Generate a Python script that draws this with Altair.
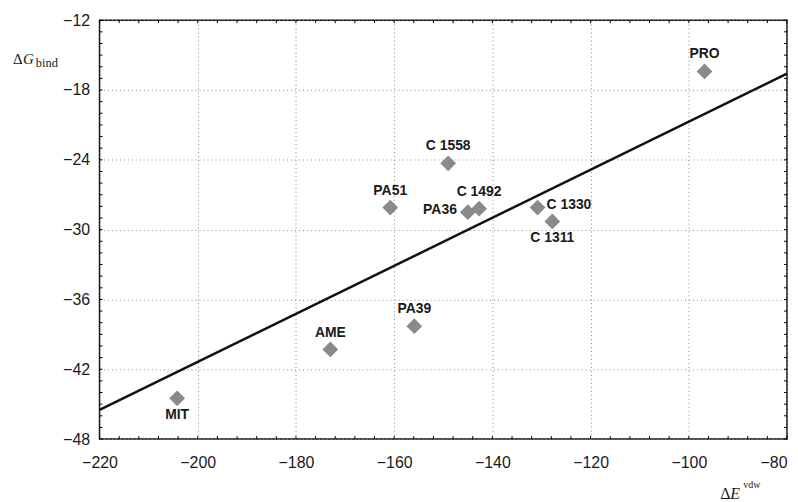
import altair as alt
import pandas as pd

# ---- data ----
labels = ["PRO", "C 1558", "PA51", "C 1492", "PA36", "C 1330", "C 1311", "MIT", "AME", "PA39"]
evdw = [-96.8, -149.0, -160.8, -142.7, -145.0, -130.8, -127.8, -204.2, -173.0, -155.9]
gbind = [-16.4, -24.3, -28.1, -28.2, -28.5, -28.1, -29.3, -44.5, -40.3, -38.3]
label_pos = ["above", "above", "above", "above", "left", "right", "below", "below", "above", "above"]

fit_x = [-220, -80]
fit_y = [-45.5, -16.6]

x_ticks = list(range(-220, -79, 20))
y_ticks = list(range(-48, -11, 6))
x_minor = list(range(-220, -79, 4))
y_minor = list(range(-48, -11, 1))

W, H = 691, 421

pts = pd.DataFrame({"x": evdw, "y": gbind, "label": labels, "pos": label_pos})
fit = pd.DataFrame({"x": fit_x, "y": fit_y})
xm = pd.DataFrame({"x": x_minor})
ym = pd.DataFrame({"y": y_minor})

xs = alt.Scale(domain=[-220, -80], nice=False, zero=False)
ys = alt.Scale(domain=[-48, -12], nice=False, zero=False)

axis_common = dict(
    domain=False, ticks=False, tickSize=0, grid=True,
    gridColor="#888888", gridDash=[1, 3], gridWidth=1,
    labelFont="Liberation Sans", labelFontSize=16, labelColor="#1a1a1a",
    labelFlush=False, labelOverlap=False, title=None,
)

X = lambda: alt.X("x:Q", scale=xs, title=None)
Y = lambda: alt.Y("y:Q", scale=ys, title=None)

points = alt.Chart(pts).mark_point(
    shape="diamond", filled=True, size=250, color="#8a8a8a", opacity=1, strokeWidth=0
).encode(
    x=alt.X("x:Q", scale=xs, axis=alt.Axis(
        values=x_ticks, labelPadding=16,
        labelAlign={"condition": {"test": "datum.value == -80", "value": "right"}, "value": "center"},
        **axis_common)),
    y=alt.Y("y:Q", scale=ys, axis=alt.Axis(values=y_ticks, labelPadding=10, **axis_common)),
)

line = alt.Chart(fit).mark_line(color="#111111", strokeWidth=2.5).encode(x=X(), y=Y())

def lab(pos, **kw):
    return alt.Chart(pts).transform_filter(alt.datum.pos == pos).mark_text(
        font="Liberation Sans", fontWeight="bold", fontSize=14, color="#1a1a1a",
        baseline="middle", **kw
    ).encode(x=X(), y=Y(), text="label:N")

lab_above = lab("above", dy=-17, align="center")
lab_below = lab("below", dy=17, align="center")
lab_left = lab("left", dx=-11, dy=-2, align="right")
lab_right = lab("right", dx=9, dy=-3, align="left")

tick_b = alt.Chart(xm).mark_rule(color="black", strokeWidth=1).encode(
    x=X(), y=alt.value(H), y2=alt.value(H - 3))
tick_t = alt.Chart(xm).mark_rule(color="black", strokeWidth=1).encode(
    x=X(), y=alt.value(0), y2=alt.value(3))
tick_l = alt.Chart(ym).mark_rule(color="black", strokeWidth=1).encode(
    y=Y(), x=alt.value(0), x2=alt.value(3))
tick_r = alt.Chart(ym).mark_rule(color="black", strokeWidth=1).encode(
    y=Y(), x=alt.value(W), x2=alt.value(W - 3))

def txt(s, x, y, size, style="normal"):
    return alt.Chart(pd.DataFrame({"t": [s]})).mark_text(
        font="Liberation Serif", fontSize=size, fontStyle=style, color="#1a1a1a",
        align="left", baseline="alphabetic"
    ).encode(x=alt.value(x), y=alt.value(y), text="t:N")

ylab = txt("Δ", -87, 44, 15) + txt("G", -77, 44, 15, "italic") + txt("bind", -64, 47, 12.5)
xlab = txt("Δ", 624, 481, 16) + txt("E", 634, 481, 16, "italic") + txt("vdw", 647, 470, 10)

chart = alt.layer(
    points, line, tick_b, tick_t, tick_l, tick_r,
    lab_above, lab_below, lab_left, lab_right, ylab, xlab
).properties(
    width=W, height=H,
    padding={"left": 92, "top": 11, "right": 3, "bottom": 62},
    autosize=alt.AutoSizeParams(type="none"),
    background="white",
).configure_view(
    stroke="#111111", strokeWidth=1.5
)

chart.save("out.html", embed_options={"renderer": "svg", "actions": False})
